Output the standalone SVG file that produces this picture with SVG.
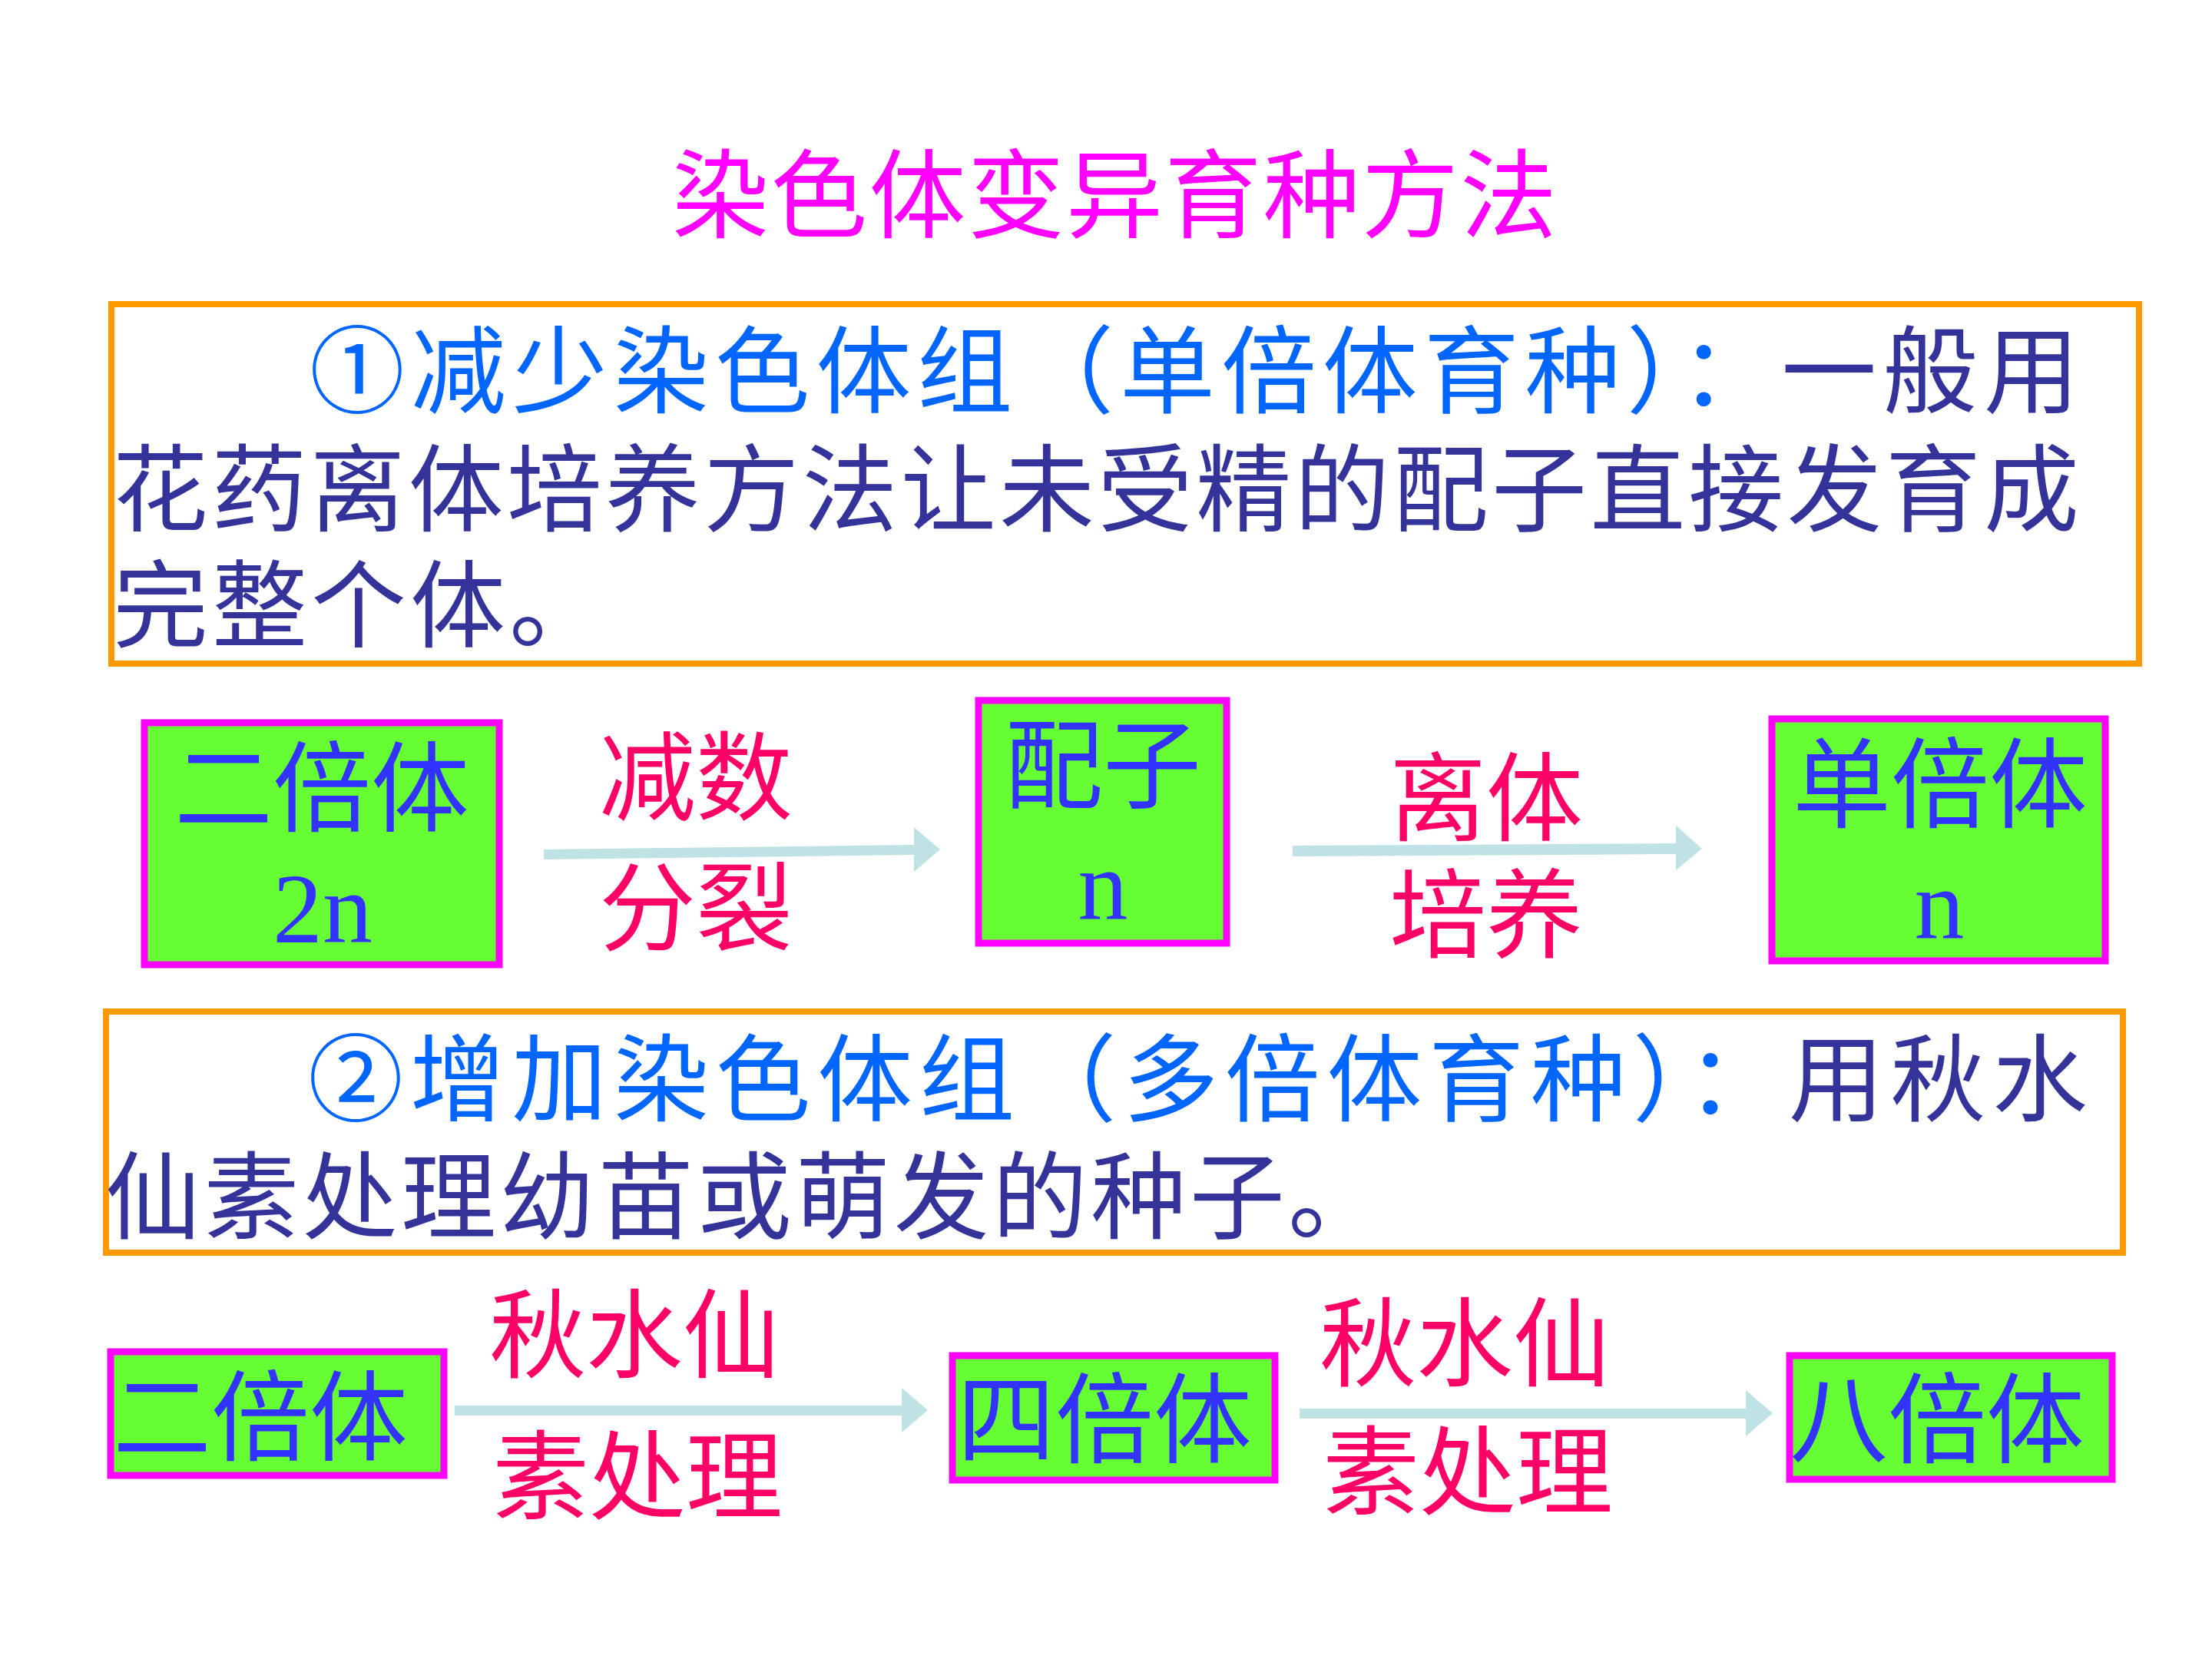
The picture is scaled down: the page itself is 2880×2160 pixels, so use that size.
<svg xmlns="http://www.w3.org/2000/svg" width="2880" height="2160" viewBox="0 0 2880 2160">
<style>
.cjk{font-family:"Noto Sans CJK SC","Noto Sans CJK TC",sans-serif;}
.title{font-size:126px;fill:#FF00FF;}
.para{font-size:124px;fill:#333399;}
.hl{fill:#0066FF;}
.frame{fill:none;stroke:#FF9900;stroke-width:8;}
.node rect{fill:#66FF33;stroke:#FF00FF;stroke-width:9;}
.nt{font-size:128px;fill:#3333FF;text-anchor:middle;}
.nn{font-family:"Liberation Serif",serif;font-size:130px;fill:#3333FF;text-anchor:middle;}
.lab{font-size:126px;fill:#FF0066;text-anchor:middle;}
.arrow{fill:#BFE2E4;}
</style>
<rect width="2880" height="2160" fill="#FFFFFF"/>
<text id="title" class="cjk title" x="875" y="300" textLength="1152" lengthAdjust="spacing">染色体变异育种方法</text>

<g id="box1">
<rect class="frame" x="145" y="396" width="2640" height="468"/>
<text class="cjk para" x="403" y="528" textLength="2304" lengthAdjust="spacing"><tspan class="hl">①减少染色体组（单倍体育种）：</tspan>一般用</text>
<text class="cjk para" x="147" y="682" textLength="2560" lengthAdjust="spacing">花药离体培养方法让未受精的配子直接发育成</text>
<text class="cjk para" x="147" y="833" textLength="640" lengthAdjust="spacing">完整个体。</text>
</g>

<g id="box2">
<rect class="frame" x="138" y="1317" width="2626" height="314"/>
<text class="cjk para" x="401" y="1450" textLength="2317" lengthAdjust="spacing"><tspan class="hl">②增加染色体组（多倍体育种）：</tspan>用秋水</text>
<text class="cjk para" x="137" y="1603" textLength="1664" lengthAdjust="spacing">仙素处理幼苗或萌发的种子。</text>
</g>

<g id="n-diploid1" class="node">
<rect x="188" y="941" width="462" height="315"/>
<text class="cjk nt" x="419" y="1073">二倍体</text>
<text class="nn" x="420" y="1227">2n</text>
</g>
<g id="n-gamete" class="node">
<rect x="1274" y="912" width="323" height="316"/>
<text class="cjk nt" x="1436" y="1043">配子</text>
<text class="nn" x="1436" y="1197">n</text>
</g>
<g id="n-haploid" class="node">
<rect x="2307" y="936" width="434" height="315"/>
<text class="cjk nt" x="2526" y="1068">单倍体</text>
<text class="nn" x="2525" y="1222">n</text>
</g>
<g id="n-diploid2" class="node">
<rect x="144" y="1760" width="434" height="161"/>
<text class="cjk nt" x="339" y="1892">二倍体</text>
</g>
<g id="n-tetraploid" class="node">
<rect x="1240" y="1765" width="420" height="162"/>
<text class="cjk nt" x="1438" y="1895">四倍体</text>
</g>
<g id="n-octoploid" class="node">
<rect x="2330" y="1765" width="420" height="161"/>
<text class="cjk nt" x="2522" y="1895">八倍体</text>
</g>

<g id="connectors">
<polygon class="arrow" points="708,1106 1190,1100 1190,1077 1224,1106 1190,1135 1190,1113 708,1119"/>
<polygon class="arrow" points="1683,1101 2182,1098 2182,1075 2216,1105 2182,1133 2182,1112 1683,1115"/>
<polygon class="arrow" points="592,1830 1174,1830 1174,1807 1208,1836 1174,1865 1174,1843 592,1843"/>
<polygon class="arrow" points="1692,1834 2273,1834 2273,1810 2308,1840 2273,1870 2273,1847 1692,1847"/>
<text class="cjk lab" x="906" y="1058">减数</text>
<text class="cjk lab" x="906" y="1228">分裂</text>
<text class="cjk lab" x="1935" y="1085">离体</text>
<text class="cjk lab" x="1935" y="1237">培养</text>
<text class="cjk lab" x="826" y="1784">秋水仙</text>
<text class="cjk lab" x="830" y="1968">素处理</text>
<text class="cjk lab" x="1907" y="1795">秋水仙</text>
<text class="cjk lab" x="1911" y="1962">素处理</text>
</g>
</svg>
